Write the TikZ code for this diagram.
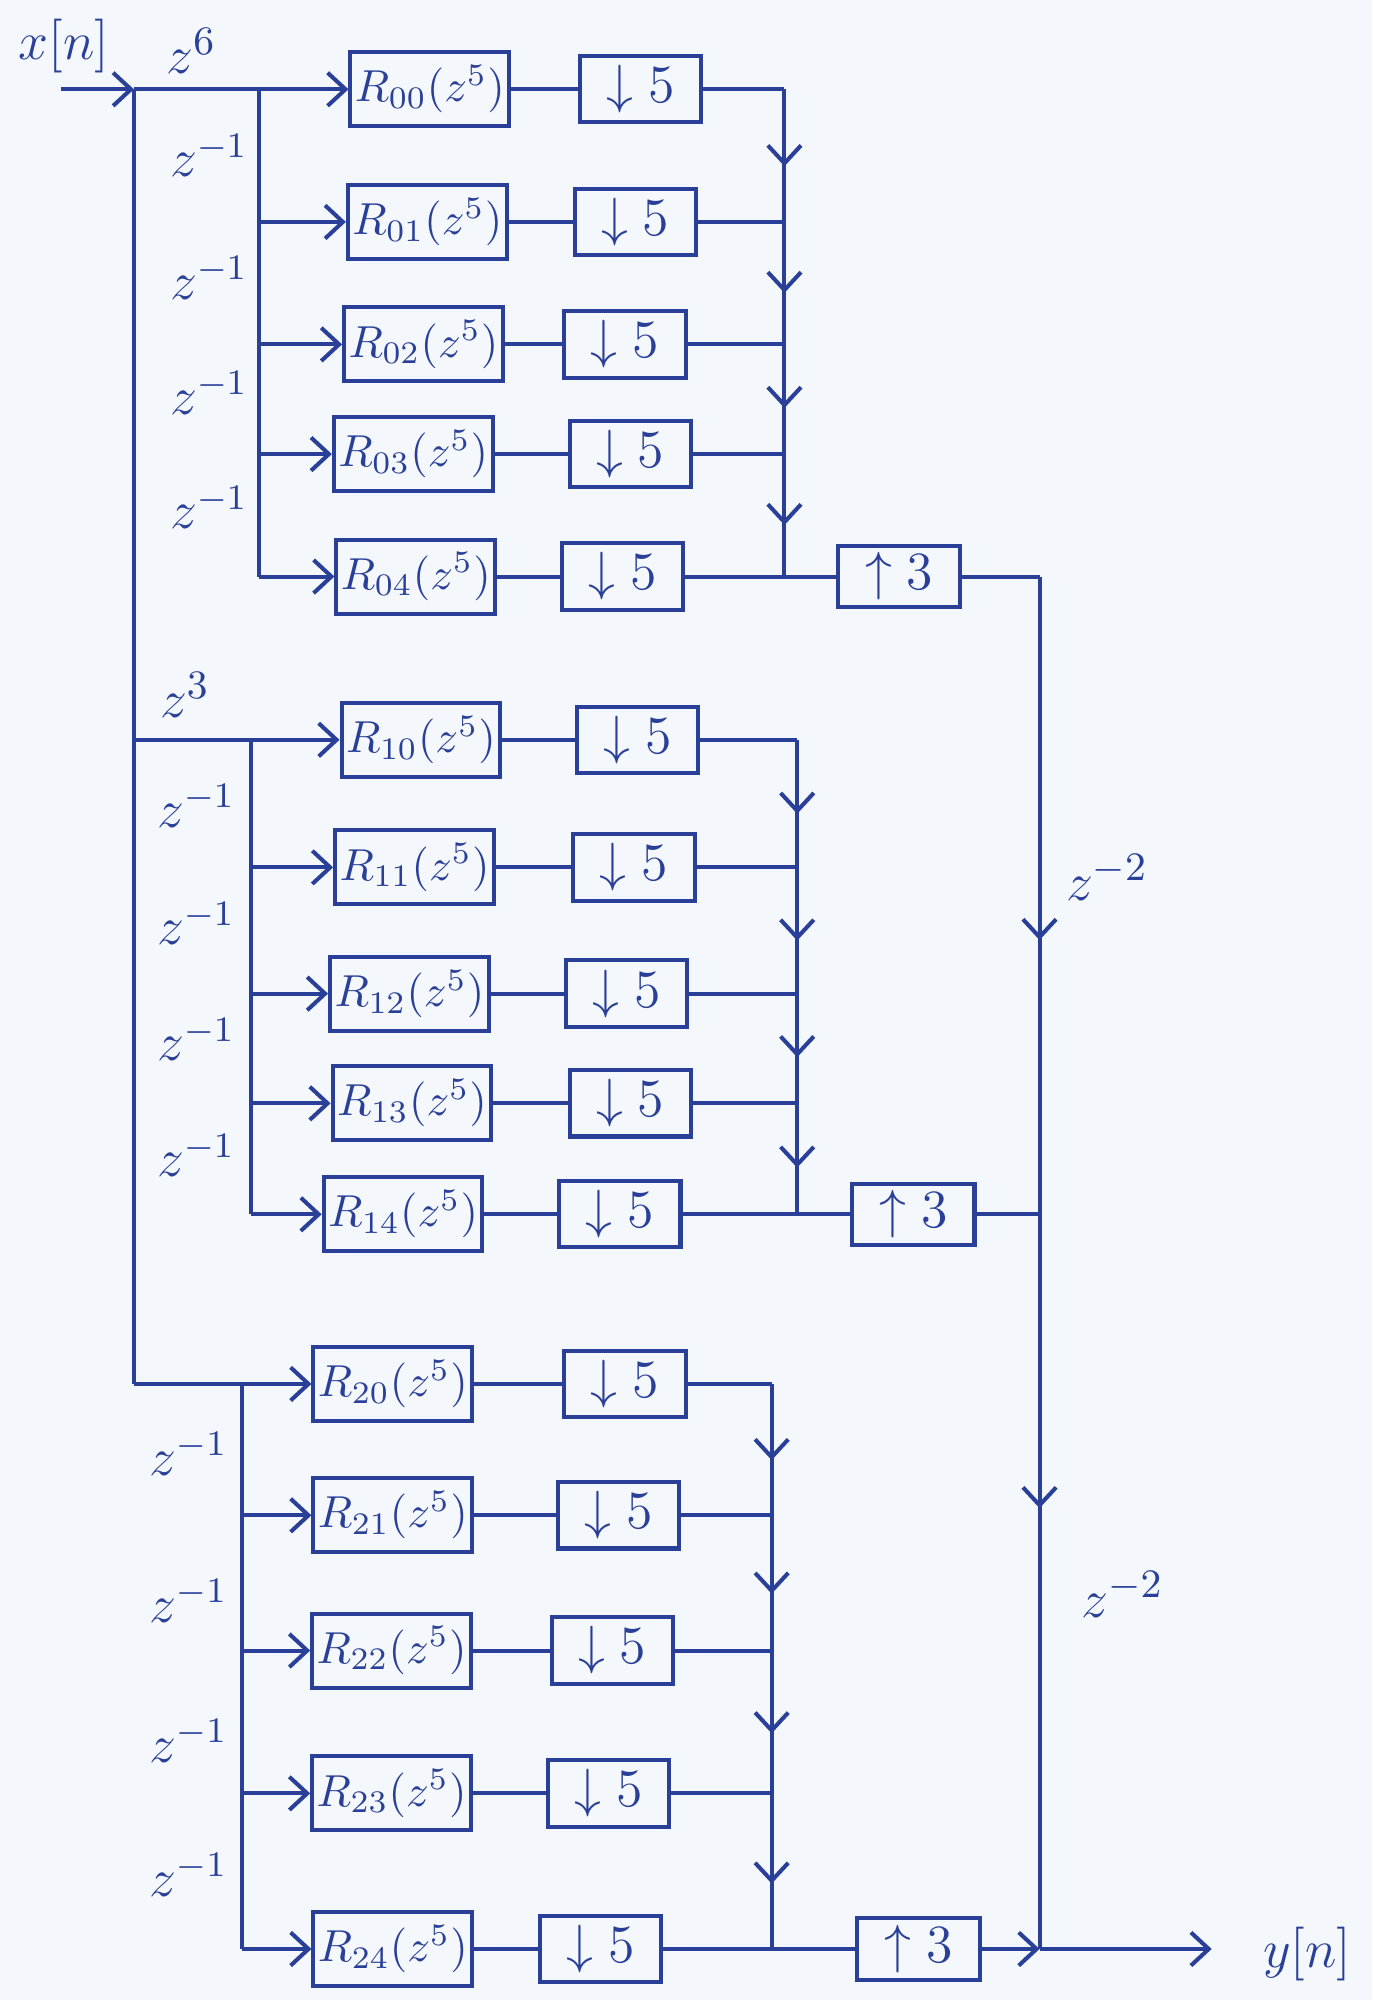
\documentclass[tikz,border=0pt]{standalone}
\usetikzlibrary{arrows.meta,decorations.markings}
\definecolor{ink}{RGB}{42,64,152}
\definecolor{paper}{RGB}{244,248,252}
\begin{document}
\begin{tikzpicture}[x=0.1mm,y=-0.1mm,line width=0.9pt,color=ink,
  rbox/.style={draw,minimum width=11.5mm,minimum height=5.8mm,inner sep=1pt,font=\fontsize{10}{12}\selectfont},
  dbox/.style={draw,minimum width=9.5mm,minimum height=5.2mm,inner sep=1pt,font=\fontsize{13}{15}\selectfont},
  ubox/.style={draw,minimum width=9.6mm,minimum height=4.8mm,inner sep=1pt,font=\fontsize{13}{15}\selectfont},
  lab/.style={font=\fontsize{13}{15}\selectfont,inner sep=0pt},
  dlab/.style={font=\fontsize{12}{14}\selectfont,inner sep=0pt,anchor=east},
  arr/.style={-{Straight Barb[length=1.4mm,width=2.6mm]}},
  midarr/.style={postaction=decorate,decoration={markings,mark=at position #1 with {\arrow{Straight Barb[length=1.4mm,width=2.6mm]}}}},
  midarr/.default=0.58]
\fill[paper] (0,0) rectangle (1076,1568);

% ---------- group 0 ----------
\node[rbox] (R00) at (337,70)  {$R_{00}(z^5)$};
\node[rbox] (R01) at (335,174) {$R_{01}(z^5)$};
\node[rbox] (R02) at (332,270) {$R_{02}(z^5)$};
\node[rbox] (R03) at (324,356) {$R_{03}(z^5)$};
\node[rbox] (R04) at (326,452) {$R_{04}(z^5)$};
\node[dbox] (D00) at (502,70)  {$\downarrow 5$};
\node[dbox] (D01) at (498,174) {$\downarrow 5$};
\node[dbox] (D02) at (490,270) {$\downarrow 5$};
\node[dbox] (D03) at (494,356) {$\downarrow 5$};
\node[dbox] (D04) at (488,452) {$\downarrow 5$};
\node[ubox] (U0) at (705,452) {$\uparrow 3$};

% ---------- group 1 ----------
\node[rbox] (R10) at (330,580) {$R_{10}(z^5)$};
\node[rbox] (R11) at (325,680) {$R_{11}(z^5)$};
\node[rbox] (R12) at (321,779) {$R_{12}(z^5)$};
\node[rbox] (R13) at (323,865) {$R_{13}(z^5)$};
\node[rbox] (R14) at (316,952) {$R_{14}(z^5)$};
\node[dbox] (D10) at (500,580) {$\downarrow 5$};
\node[dbox] (D11) at (497,680) {$\downarrow 5$};
\node[dbox] (D12) at (491,779) {$\downarrow 5$};
\node[dbox] (D13) at (494,865) {$\downarrow 5$};
\node[dbox] (D14) at (486,952) {$\downarrow 5$};
\node[ubox] (U1) at (716,952) {$\uparrow 3$};

% ---------- group 2 ----------
\node[rbox] (R20) at (308,1085) {$R_{20}(z^5)$};
\node[rbox] (R21) at (308,1188) {$R_{21}(z^5)$};
\node[rbox] (R22) at (307,1294) {$R_{22}(z^5)$};
\node[rbox] (R23) at (307,1406) {$R_{23}(z^5)$};
\node[rbox] (R24) at (308,1528) {$R_{24}(z^5)$};
\node[dbox] (D20) at (490,1085) {$\downarrow 5$};
\node[dbox] (D21) at (485,1188) {$\downarrow 5$};
\node[dbox] (D22) at (480,1294) {$\downarrow 5$};
\node[dbox] (D23) at (477,1406) {$\downarrow 5$};
\node[dbox] (D24) at (471,1528) {$\downarrow 5$};
\node[ubox] (U2) at (720,1528) {$\uparrow 3$};

% ---------- coordinates ----------
\coordinate (in) at (48,70);
\coordinate (m0) at (105,70);
\coordinate (m1) at (105,580);
\coordinate (m2) at (105,1085);
\foreach \g/\sx/\cx/\ya/\yb/\yc/\yd/\ye in
  {0/203/615/70/174/270/356/452, 1/197/625/580/680/779/865/952, 2/190/605/1085/1188/1294/1406/1528}{
  \coordinate (s\g0) at (\sx,\ya);
  \coordinate (s\g1) at (\sx,\yb);
  \coordinate (s\g2) at (\sx,\yc);
  \coordinate (s\g3) at (\sx,\yd);
  \coordinate (s\g4) at (\sx,\ye);
  \coordinate (c\g0) at (\cx,\ya);
  \coordinate (c\g1) at (\cx,\yb);
  \coordinate (c\g2) at (\cx,\yc);
  \coordinate (c\g3) at (\cx,\yd);
  \coordinate (c\g4) at (\cx,\ye);
}
\coordinate (r0) at (815,452);
\coordinate (r1) at (815,952);
\coordinate (r2) at (815,1528);
\coordinate (yout) at (950,1528);

% ---------- input distribution ----------
\draw[arr] (in) -- (m0);
\draw (m0) -- (m1) -- (m2);
\draw (m0) -- (s00);
\draw (m1) -- (s10);
\draw (m2) -- (s20);

\foreach \g in {0,1,2}{
  \draw (s\g0) -- (s\g4);
  \foreach \k in {0,...,4}{
    \draw[arr] (s\g\k) -- (R\g\k.west);
    \draw (R\g\k.east) -- (D\g\k.west);
    \draw (D\g\k.east) -- (c\g\k);
  }
  \draw[midarr] (c\g0) -- (c\g1);
  \draw[midarr] (c\g1) -- (c\g2);
  \draw[midarr] (c\g2) -- (c\g3);
  \draw[midarr] (c\g3) -- (c\g4);
  \draw (c\g4) -- (U\g.west);
}

% ---------- output combination ----------
\draw (U0.east) -- (r0);
\draw[midarr=0.57] (r0) -- (r1);
\draw (U1.east) -- (r1);
\draw[midarr=0.40] (r1) -- (r2);
\draw[arr] (U2.east) -- (r2);
\draw[arr] (r2) -- (yout);

% ---------- labels ----------
\node[lab] (lx) at (50,36) {$x[n]$};
\node[lab] (l6) at (150,40) {$z^{6}$};
\node[lab] (l3) at (145,545) {$z^{3}$};
\node[lab] (ly) at (1025,1532) {$y[n]$};
\node[lab] (lz1) at (868,688) {$z^{-2}$};
\node[lab] (lz2) at (880,1250) {$z^{-2}$};
\foreach \x/\y [count=\i] in {196/122,196/218,196/308,196/398,
                              186/632,186/724,186/815,186/906,
                              180/1140,180/1255,180/1365,180/1470}{
  \node[dlab] (d\i) at (\x,\y) {$z^{-1}$};
}
\end{tikzpicture}
\end{document}
